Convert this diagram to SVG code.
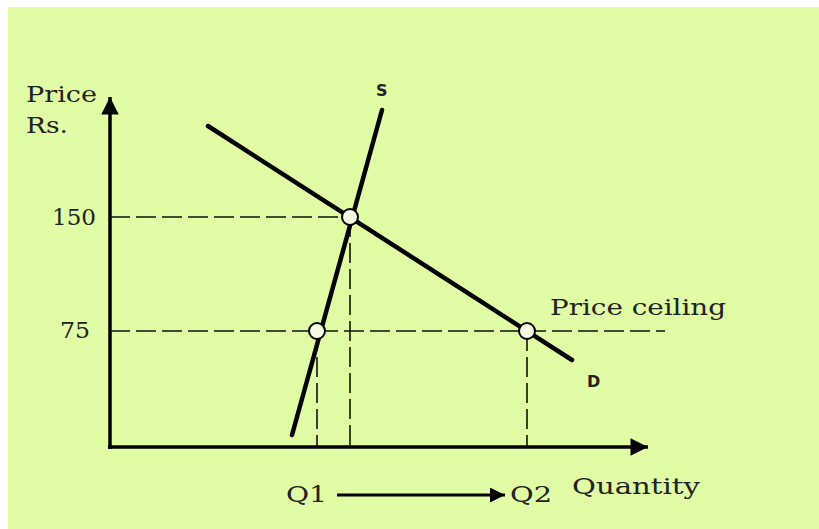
<svg xmlns="http://www.w3.org/2000/svg" width="819" height="529" viewBox="0 0 819 529">
<style>
.lbl{font-family:"DejaVu Serif","Liberation Serif",serif;font-size:22px;fill:#222;}
.bold{font-family:"DejaVu Sans","Liberation Sans",sans-serif;font-size:16px;font-weight:bold;fill:#222;}
.dash{stroke:#111;stroke-width:1.6;stroke-dasharray:20 6;fill:none;}
.axis{stroke:#000;stroke-width:3.5;fill:none;}
.curve{stroke:#000;stroke-width:4.5;fill:none;stroke-linecap:round;}
.pt{fill:#f4fbe0;stroke:#000;stroke-width:2;}
</style>
<defs>
<marker id="ah" viewBox="0 0 10 10" refX="10" refY="5" markerWidth="8" markerHeight="5" markerUnits="strokeWidth" orient="auto">
<path d="M0,0 L10,5 L0,10 z" fill="#000"/>
</marker>
<marker id="ah2" viewBox="0 0 10 10" refX="10" refY="5" markerWidth="9" markerHeight="5" markerUnits="strokeWidth" orient="auto">
<path d="M0,0 L10,5 L0,10 z" fill="#000"/>
</marker>
</defs>
<rect x="0" y="0" width="819" height="529" fill="#ffffff"/>
<rect x="8" y="7" width="811" height="522" fill="#e0fca4"/>
<g id="connectors">
<line class="axis" x1="110" y1="449" x2="110" y2="97" marker-end="url(#ah)"/>
<line class="axis" x1="108" y1="447" x2="648" y2="447" marker-end="url(#ah)"/>
<line class="dash" x1="110" y1="217" x2="350" y2="217"/>
<line class="dash" x1="350" y1="217" x2="350" y2="447"/>
<line class="dash" x1="110" y1="331" x2="665" y2="331"/>
<line class="dash" x1="317" y1="331" x2="317" y2="447"/>
<line class="dash" x1="527" y1="331" x2="527" y2="447"/>
<line class="curve" x1="208" y1="126" x2="572" y2="360"/>
<line class="curve" x1="292" y1="435" x2="382" y2="110"/>
<line stroke="#000" stroke-width="3" x1="337" y1="495" x2="505" y2="495" marker-end="url(#ah2)"/>
</g>
<g id="point-e">
<circle class="pt" cx="350" cy="217" r="8"/>
</g>
<g id="point-q1">
<circle class="pt" cx="317" cy="331" r="8"/>
</g>
<g id="point-q2">
<circle class="pt" cx="527" cy="331" r="8"/>
</g>
<g id="labels">
<text class="lbl" x="26" y="102" textLength="71" lengthAdjust="spacingAndGlyphs">Price</text>
<text class="lbl" x="26" y="133" textLength="42" lengthAdjust="spacingAndGlyphs">Rs.</text>
<text class="lbl" x="52" y="225" textLength="44" lengthAdjust="spacingAndGlyphs">150</text>
<text class="lbl" x="60" y="338" textLength="30" lengthAdjust="spacingAndGlyphs">75</text>
<text class="bold" x="376" y="96">S</text>
<text class="bold" x="587" y="387">D</text>
<text class="lbl" x="550" y="315" textLength="176" lengthAdjust="spacingAndGlyphs">Price ceiling</text>
<text class="lbl" x="286" y="502" textLength="41" lengthAdjust="spacingAndGlyphs">Q1</text>
<text class="lbl" x="510" y="502" textLength="42" lengthAdjust="spacingAndGlyphs">Q2</text>
<text class="lbl" x="572" y="494" textLength="128" lengthAdjust="spacingAndGlyphs">Quantity</text>
</g>
</svg>
